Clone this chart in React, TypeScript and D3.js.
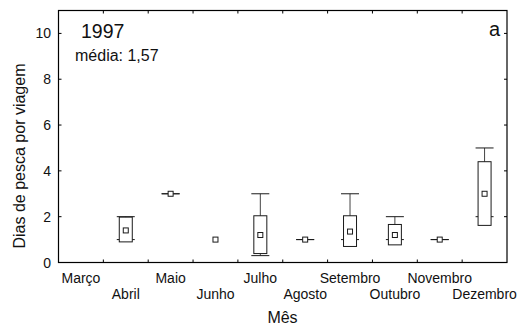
import React from "react";
import * as d3 from "d3";

const months = ["Março", "Abril", "Maio", "Junho", "Julho", "Agosto", "Setembro", "Outubro", "Novembro", "Dezembro"];
const means: (number | null)[] = [null, 1.4, 3.0, 1.0, 1.2, 1.0, 1.35, 1.2, 1.0, 3.0];
const boxLow: (number | null)[] = [null, 0.9, 3.0, 1.0, 0.39, 1.0, 0.7, 0.77, 1.0, 1.62];
const boxHigh: (number | null)[] = [null, 1.98, 3.0, 1.0, 2.04, 1.0, 2.04, 1.66, 1.0, 4.4];
const minVals: (number | null)[] = [null, 1, 3, null, 0.3, 1, 1, 1, 1, 2];
const maxVals: (number | null)[] = [null, 2, 3, null, 3, 1, 3, 2, 1, 5];
const yTicks = [0, 2, 4, 6, 8, 10];

const W = 519;
const H = 327;
const L = 58.5;
const R = 507;
const T = 10.5;
const B = 262.5;
const FONT = "'Liberation Sans', Arial, sans-serif";

export default function App() {
  const x = d3.scaleBand<string>().domain(months).range([L, R]).padding(0);
  const y = d3.scaleLinear().domain([0, 11]).range([B, T]);
  const bw = x.bandwidth();
  const boundaries = d3.range(1, months.length).map((i) => L + i * bw);
  const boxW = 13;
  const capW = 18;
  const sq = 5;
  const tickLen = 3;
  const stroke = "#1a1a1a";

  return (
    <svg width={W} height={H} style={{ position: "absolute", left: 0, top: 0 }} fontFamily={FONT}>
      <rect x={0} y={0} width={W} height={H} fill="#fff" />
      {/* boxes */}
      {months.map((m, i) => {
        const cx = (x(m) as number) + bw / 2;
        const mean = means[i];
        if (mean === null) return null;
        const lo = boxLow[i] as number;
        const hi = boxHigh[i] as number;
        const mn = minVals[i];
        const mx = maxVals[i];
        return (
          <g key={m}>
            {mn !== null && mx !== null && (
              <g stroke={stroke} strokeWidth={1}>
                <line x1={cx} x2={cx} y1={y(mn)} y2={y(mx)} stroke="#444" />
                <line x1={cx - capW / 2} x2={cx + capW / 2} y1={y(mx)} y2={y(mx)} />
                <line x1={cx - capW / 2} x2={cx + capW / 2} y1={y(mn)} y2={y(mn)} />
              </g>
            )}
            <rect
              x={cx - boxW / 2}
              y={y(hi)}
              width={boxW}
              height={Math.max(0, y(lo) - y(hi))}
              fill="#fff"
              stroke={stroke}
              strokeWidth={1}
            />
            <rect x={cx - sq / 2} y={y(mean) - sq / 2} width={sq} height={sq} fill="#fff" stroke={stroke} strokeWidth={1} />
          </g>
        );
      })}
      {/* frame */}
      <rect x={L} y={T} width={R - L} height={B - T} fill="none" stroke="#000" strokeWidth={1.2} />
      {/* category boundary ticks */}
      {boundaries.map((bx, i) => (
        <g key={"b" + i} stroke="#000" strokeWidth={1}>
          <line x1={bx} x2={bx} y1={B} y2={B - tickLen} />
          <line x1={bx} x2={bx} y1={T} y2={T + tickLen} />
        </g>
      ))}
      {/* y ticks */}
      {yTicks.map((t) => (
        <g key={"y" + t}>
          <line x1={L} x2={L + tickLen} y1={y(t)} y2={y(t)} stroke="#000" />
          <line x1={R} x2={R - tickLen} y1={y(t)} y2={y(t)} stroke="#000" />
          <text x={51} y={y(t)} dy="0.36em" textAnchor="end" fontSize={14} fill="#111">
            {t}
          </text>
        </g>
      ))}
      {/* x labels */}
      {months.map((m, i) => (
        <text
          key={"l" + m}
          x={(x(m) as number) + bw / 2}
          y={i % 2 === 0 ? 283 : 298.5}
          textAnchor="middle"
          fontSize={14}
          fill="#111"
        >
          {m}
        </text>
      ))}
      {/* annotations */}
      <text x={81} y={38.3} fontSize={19.5} fill="#111">1997</text>
      <text x={75} y={60.7} fontSize={16} fill="#111">média: 1,57</text>
      <text x={500} y={35.7} textAnchor="end" fontSize={20} fill="#111">a</text>
      {/* axis titles */}
      <text x={282.5} y={322.5} textAnchor="middle" fontSize={16} fill="#111">Mês</text>
      <text
        transform={`translate(24.5,156) rotate(-90)`}
        textAnchor="middle"
        fontSize={16}
        fill="#111"
      >
        Dias de pesca por viagem
      </text>
    </svg>
  );
}
